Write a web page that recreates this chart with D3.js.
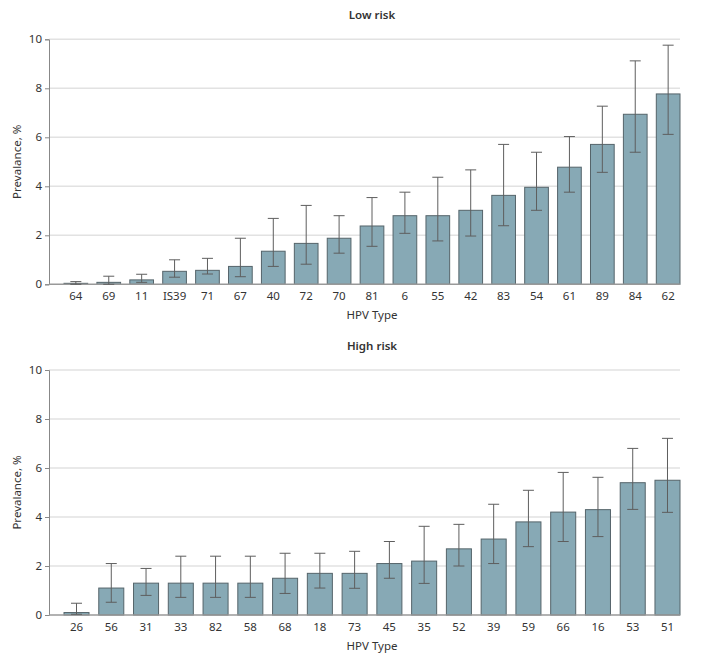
<!DOCTYPE html>
<html>
<head>
<meta charset="utf-8">
<script src="https://cdn.jsdelivr.net/npm/d3@7"></script>
<style>
  body { margin: 0; background: #fff; }
  text { font-family: "Noto Sans", sans-serif; fill: #333; }
</style>
</head>
<body>
<script>
// HPV prevalence
const lowTypes = ['64', '69', '11', 'IS39', '71', '67', '40', '72', '70', '81', '6', '55', '42', '83', '54', '61', '89', '84', '62'];
const lowPrev  = [0.04, 0.08, 0.18, 0.53, 0.57, 0.73, 1.35, 1.67, 1.88, 2.38, 2.80, 2.80, 3.02, 3.63, 3.96, 4.78, 5.71, 6.94, 7.77];
const lowLower = [0.00, 0.00, 0.08, 0.29, 0.42, 0.31, 0.73, 0.82, 1.27, 1.55, 2.08, 1.77, 1.97, 2.39, 3.02, 3.76, 4.57, 5.39, 6.12];
const lowUpper = [0.11, 0.33, 0.41, 1.00, 1.06, 1.88, 2.69, 3.22, 2.80, 3.54, 3.76, 4.37, 4.67, 5.71, 5.39, 6.03, 7.27, 9.12, 9.76];

const highTypes = ['26', '56', '31', '33', '82', '58', '68', '18', '73', '45', '35', '52', '39', '59', '66', '16', '53', '51'];
const highPrev  = [0.10, 1.10, 1.30, 1.30, 1.30, 1.30, 1.50, 1.70, 1.70, 2.10, 2.20, 2.70, 3.10, 3.80, 4.20, 4.30, 5.40, 5.50];
const highLower = [0.03, 0.52, 0.80, 0.72, 0.72, 0.72, 0.88, 1.10, 1.09, 1.50, 1.29, 2.00, 2.10, 2.79, 3.00, 3.20, 4.31, 4.19];
const highUpper = [0.48, 2.10, 1.90, 2.40, 2.40, 2.40, 2.52, 2.52, 2.60, 3.00, 3.62, 3.70, 4.52, 5.09, 5.82, 5.62, 6.80, 7.21];

const yTicks = [0, 2, 4, 6, 8, 10];

const svg = d3.select('body').append('svg')
    .attr('width', 703)
    .attr('height', 667);

function panel(title, types, prev, lower, upper, top, bottom) {
    const axisX = 49, barLeft = 64, right = 680;
    const g = svg.append('g');

    const x = d3.scaleBand()
        .domain(types)
        .range([barLeft, right])
        .paddingInner(0.28)
        .paddingOuter(0);
    // same scale for both panels, bars sit flush with the right edge
    const y = d3.scaleLinear().domain([0, 10]).range([bottom, top]);

    // gridlines
    g.selectAll('.grid').data(yTicks.filter(d => d > 0)).join('line')
        .attr('x1', axisX).attr('x2', right)
        .attr('y1', d => y(d)).attr('y2', d => y(d))
        .attr('stroke', '#e2e2e2').attr('stroke-width', 1.5);

    // y axis
    const yAxis = g.append('g')
        .attr('transform', `translate(${axisX},0)`)
        .call(d3.axisLeft(y).tickValues(yTicks).tickSize(4).tickPadding(3));
    yAxis.select('.domain').attr('stroke', '#888');
    yAxis.selectAll('.tick line').attr('stroke', '#888');
    yAxis.selectAll('.tick text')
        .style('font-family', '"Noto Sans", sans-serif')
        .style('font-size', '11.5px').attr('fill', '#333');

    // bars
    g.selectAll('.bar').data(types).join('rect')
        .attr('x', d => x(d))
        .attr('width', x.bandwidth())
        .attr('y', (d, i) => y(prev[i]))
        .attr('height', (d, i) => y(0) - y(prev[i]))
        .attr('fill', '#87a9b5')
        .attr('stroke', '#55646a')
        .attr('stroke-width', 1);

    // baseline
    g.append('line')
        .attr('x1', axisX).attr('x2', right)
        .attr('y1', y(0)).attr('y2', y(0))
        .attr('stroke', '#999').attr('stroke-width', 1.5);

    // error bars
    const cap = 5.5;
    const eb = g.selectAll('.err').data(types).join('g')
        .attr('stroke', '#5e5e5e').attr('stroke-width', 1);
    eb.append('line')
        .attr('x1', d => x(d) + x.bandwidth() / 2)
        .attr('x2', d => x(d) + x.bandwidth() / 2)
        .attr('y1', (d, i) => y(lower[i]))
        .attr('y2', (d, i) => y(upper[i]));
    eb.append('line')
        .attr('x1', d => x(d) + x.bandwidth() / 2 - cap)
        .attr('x2', d => x(d) + x.bandwidth() / 2 + cap)
        .attr('y1', (d, i) => y(upper[i]))
        .attr('y2', (d, i) => y(upper[i]));
    eb.append('line')
        .attr('x1', d => x(d) + x.bandwidth() / 2 - cap)
        .attr('x2', d => x(d) + x.bandwidth() / 2 + cap)
        .attr('y1', (d, i) => y(lower[i]))
        .attr('y2', (d, i) => y(lower[i]));

    // x labels
    g.selectAll('.xl').data(types).join('text')
        .attr('x', d => x(d) + x.bandwidth() / 2)
        .attr('y', bottom + 16)
        .attr('text-anchor', 'middle')
        .style('font-size', '11.5px')
        .text(d => d);

    const mid = (barLeft + right) / 2;
    g.append('text')
        .attr('x', mid).attr('y', bottom + 35)
        .attr('text-anchor', 'middle')
        .style('font-size', '11.5px')
        .text('HPV Type');

    g.append('text')
        .attr('x', mid).attr('y', top - 20)
        .attr('text-anchor', 'middle')
        .style('font-size', '11.5px').style('font-weight', 600)
        .attr('fill', '#222')
        .text(title);

    g.append('text')
        .attr('transform', `translate(21,${(top + bottom) / 2}) rotate(-90)`)
        .attr('text-anchor', 'middle')
        .style('font-size', '11.5px')
        .text('Prevalance, %');
}

panel('Low risk', lowTypes, lowPrev, lowLower, lowUpper, 39.3, 284.3);
panel('High risk', highTypes, highPrev, highLower, highUpper, 370, 615);
</script>
</body>
</html>
